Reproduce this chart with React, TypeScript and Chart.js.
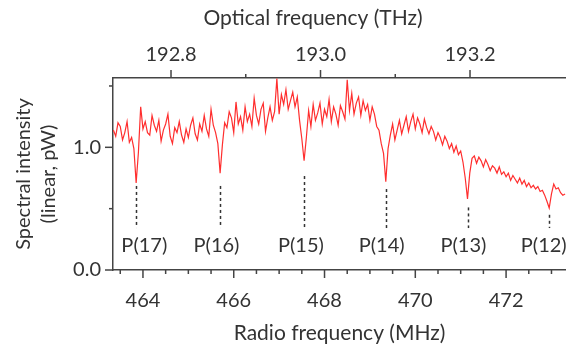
import { useEffect, useRef } from 'react';
import { Chart, registerables } from 'chart.js';
Chart.register(...registerables);

// Radio-frequency sampling of the spectrum (MHz)
const rfStart = 463.35;
const rfStep = 0.05;

// Spectral intensity (linear, pW)
const intensity = [
  1.14, 1.09, 1.20, 1.17, 1.06, 1.12, 1.21, 1.04, 1.08, 0.99,
  0.71, 0.96, 1.33, 1.15, 1.21, 1.12, 1.10, 1.26, 1.18, 1.13,
  1.22, 1.05, 1.14, 1.19, 1.27, 1.09, 1.03, 1.16, 1.12, 1.21,
  1.10, 1.04, 1.15, 1.08, 1.18, 1.24, 1.11, 1.06, 1.19, 1.13,
  1.26, 1.15, 1.09, 1.31, 1.18, 1.12, 1.03, 0.79, 1.02, 1.20,
  1.16, 1.29, 1.24, 1.12, 1.37, 1.19, 1.25, 1.14, 1.33, 1.21,
  1.27, 1.17, 1.40, 1.26, 1.19, 1.31, 1.36, 1.13, 1.24, 1.33,
  1.22, 1.29, 1.56, 1.27, 1.43, 1.35, 1.47, 1.31, 1.38, 1.45,
  1.33, 1.41, 1.22, 1.07, 0.89, 1.08, 1.30, 1.17, 1.35, 1.22,
  1.28, 1.36, 1.19, 1.31, 1.25, 1.39, 1.21, 1.33, 1.27, 1.18,
  1.34, 1.29, 1.23, 1.55, 1.30, 1.44, 1.27, 1.36, 1.41, 1.26,
  1.38, 1.30, 1.35, 1.22, 1.33, 1.27, 1.17, 1.14, 1.03, 0.95,
  0.72, 0.99, 1.10, 1.19, 1.06, 1.14, 1.22, 1.11, 1.18, 1.25,
  1.13, 1.21, 1.27, 1.15, 1.24, 1.19, 1.12, 1.23, 1.16, 1.11,
  1.17, 1.13, 1.06, 1.12, 1.08, 1.02, 1.09, 1.05, 0.99, 1.03,
  0.96, 1.01, 0.94, 0.97, 0.88, 0.75, 0.58, 0.79, 0.91, 0.93,
  0.87, 0.92, 0.89, 0.84, 0.90, 0.86, 0.81, 0.85, 0.83, 0.79,
  0.84, 0.78, 0.80, 0.76, 0.79, 0.73, 0.77, 0.74, 0.71, 0.75,
  0.70, 0.73, 0.68, 0.71, 0.67, 0.69, 0.66, 0.68, 0.64, 0.65,
  0.61, 0.56, 0.505, 0.62, 0.70, 0.66, 0.67, 0.63, 0.61, 0.62,
];

// Absorption-line annotations
const dipNames = ['P(17)', 'P(16)', 'P(15)', 'P(14)', 'P(13)', 'P(12)'];
const dipRF = [463.85, 465.7, 467.55, 469.35, 471.17, 472.94];
const dipLabelRF = [464.03, 465.62, 467.48, 469.26, 471.06, 472.83];
const dipMarkTop = [0.685, 0.685, 0.766, 0.66, 0.51, 0.45];
const dipMarkBottom = 0.342;
const dipLabelValue = 0.2;

// Axis ranges and ticks
const rfMin = 463.34;
const rfMax = 473.32;
const rfMajor = [464, 466, 468, 470, 472];
const rfMinor = [463.5, 464.5, 465, 465.5, 466.5, 467, 467.5, 468.5, 469, 469.5, 470.5, 471, 471.5, 472.5, 473];
const optMin = 192.7224;
const optMax = 193.3284;
const optMajor = [192.8, 193.0, 193.2];
const optMinor = [192.9, 193.1];
const optTitleAt = 192.99;
const yMin = 0;
const yMax = 1.565;
const yMajor = [0, 1];
const yMinor = [0.5, 1.5];

const FONT = 'Lato';
const TEXT = '#333333';
const AXIS = '#444444';

const decor = {
  id: 'decor',
  afterDraw(chart: any) {
    const { ctx, chartArea } = chart;
    const { x, x2, y } = chart.scales;
    ctx.save();
    // dashed markers
    ctx.strokeStyle = '#333333';
    ctx.lineWidth = 1.5;
    ctx.setLineDash([3, 3]);
    dipRF.forEach((f, i) => {
      const px = Math.round(x.getPixelForValue(f)) + 0.5;
      ctx.beginPath();
      ctx.moveTo(px, y.getPixelForValue(dipMarkTop[i]));
      ctx.lineTo(px, y.getPixelForValue(dipMarkBottom));
      ctx.stroke();
    });
    ctx.setLineDash([]);
    ctx.fillStyle = TEXT;
    ctx.font = `20px ${FONT}`;
    ctx.textAlign = 'center';
    ctx.textBaseline = 'middle';
    dipNames.forEach((n, i) => {
      ctx.fillText(n, x.getPixelForValue(dipLabelRF[i]), y.getPixelForValue(dipLabelValue));
    });
    // tick marks
    ctx.strokeStyle = AXIS;
    ctx.lineWidth = 1.5;
    const vt = (s: any, v: number, len: number, top: boolean) => {
      const px = s.getPixelForValue(v);
      const base = top ? chartArea.top : chartArea.bottom;
      ctx.beginPath();
      ctx.moveTo(px, base);
      ctx.lineTo(px, top ? base - len : base + len);
      ctx.stroke();
    };
    rfMajor.forEach((v) => vt(x, v, 8, false));
    rfMinor.forEach((v) => vt(x, v, 4, false));
    optMajor.forEach((v) => vt(x2, v, 8, true));
    optMinor.forEach((v) => vt(x2, v, 4, true));
    const ht = (v: number, len: number) => {
      const py = y.getPixelForValue(v);
      ctx.beginPath();
      ctx.moveTo(chartArea.left, py);
      ctx.lineTo(chartArea.left - len, py);
      ctx.stroke();
    };
    yMajor.forEach((v) => ht(v, 8));
    yMinor.forEach((v) => ht(v, 4));
    // top axis title
    ctx.fillStyle = TEXT;
    ctx.font = `21px ${FONT}`;
    ctx.textAlign = 'center';
    ctx.textBaseline = 'middle';
    ctx.fillText('Optical frequency (THz)', x2.getPixelForValue(optTitleAt), 18);
    ctx.restore();
  },
};

export default function App() {
  const ref = useRef<HTMLCanvasElement>(null);
  useEffect(() => {
    if (!ref.current) return;
    const points = intensity.map((v, i) => ({ x: rfStart + i * rfStep, y: v }));
    const fix = (w?: number, h?: number) => (s: any) => {
      if (w !== undefined) s.width = w;
      if (h !== undefined) s.height = h;
      s.paddingLeft = 0;
      s.paddingRight = 0;
      s.paddingTop = 0;
      s.paddingBottom = 0;
    };
    const chart = new Chart(ref.current, {
      type: 'line',
      data: {
        datasets: [
          {
            data: points,
            borderColor: '#ff2e2e',
            borderWidth: 1.2,
            pointRadius: 0,
            tension: 0,
            xAxisID: 'x',
            yAxisID: 'y',
          },
        ],
      },
      options: {
        animation: false,
        responsive: true,
        maintainAspectRatio: false,
        layout: { padding: 0 },
        plugins: { legend: { display: false }, tooltip: { enabled: false } },
        scales: {
          x: {
            type: 'linear',
            position: 'bottom',
            min: rfMin,
            max: rfMax,
            afterFit: fix(undefined, 76),
            afterBuildTicks: (s: any) => { s.ticks = rfMajor.map((v) => ({ value: v })); },
            grid: { display: false, drawTicks: false },
            border: { display: true, color: AXIS, width: 1.5 },
            ticks: {
              color: TEXT,
              font: { family: FONT, size: 20 },
              padding: 19,
              maxRotation: 0,
              callback: (v: any) => String(v),
            },
            title: {
              display: true,
              text: 'Radio frequency (MHz)',
              color: TEXT,
              font: { family: FONT, size: 21 },
              padding: { top: 0, bottom: 0 },
            },
          },
          x2: {
            type: 'linear',
            position: 'top',
            min: optMin,
            max: optMax,
            afterFit: fix(undefined, 78),
            afterBuildTicks: (s: any) => { s.ticks = optMajor.map((v) => ({ value: v })); },
            grid: { display: false, drawTicks: false },
            border: { display: true, color: AXIS, width: 1.5 },
            ticks: {
              color: TEXT,
              font: { family: FONT, size: 20 },
              padding: 11,
              maxRotation: 0,
              callback: (v: any) => Number(v).toFixed(1),
            },
          },
          y: {
            type: 'linear',
            position: 'left',
            min: yMin,
            max: yMax,
            afterFit: fix(113, undefined),
            afterBuildTicks: (s: any) => { s.ticks = yMajor.map((v) => ({ value: v })); },
            grid: { display: false, drawTicks: false },
            border: { display: true, color: AXIS, width: 1.5 },
            ticks: {
              color: TEXT,
              font: { family: FONT, size: 20 },
              padding: 12,
              callback: (v: any) => Number(v).toFixed(1),
            },
            title: {
              display: true,
              text: ['Spectral intensity', '(linear, pW)'],
              color: TEXT,
              font: { family: FONT, size: 20, lineHeight: 1.25 },
              padding: { top: 11, bottom: 0 },
            },
          },
        },
      },
      plugins: [decor],
    });
    return () => chart.destroy();
  }, []);
  return (
    <div style={{ position: 'fixed', left: 0, top: 0, width: 566, height: 346 }}>
      <canvas ref={ref} />
    </div>
  );
}
